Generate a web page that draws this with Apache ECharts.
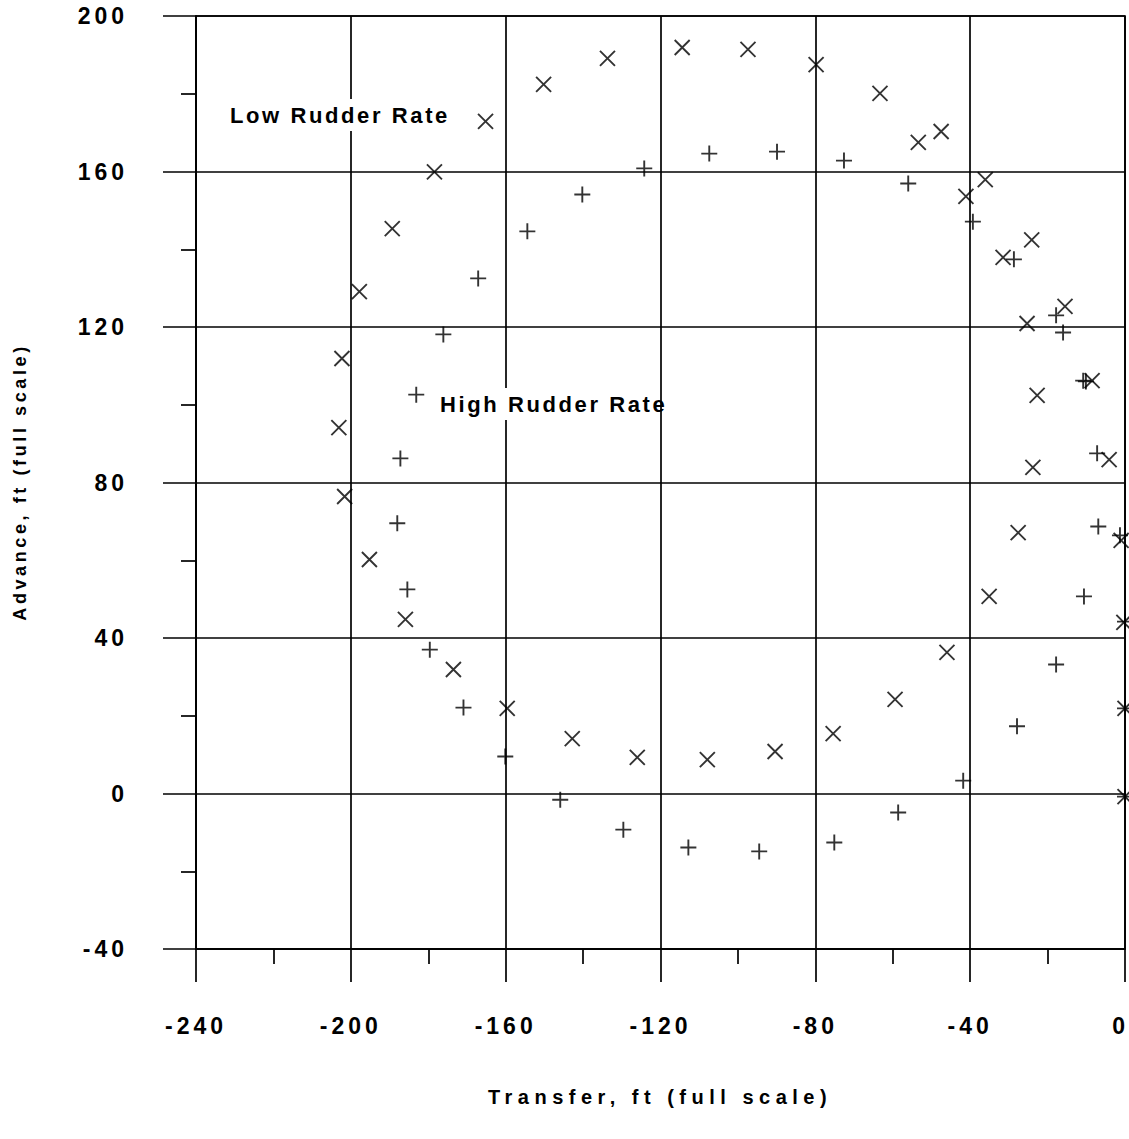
<!DOCTYPE html>
<html><head><meta charset="utf-8">
<script src="https://cdn.jsdelivr.net/npm/echarts@6/dist/echarts.min.js"></script>
<style>html,body{margin:0;padding:0;background:#fff;} #main{width:1129px;height:1139px;}</style>
</head><body><div id="main"></div>
<script>
// Axis ranges (tick labels every 40, minor ticks every 20)
const xMin = -240, xMax = 0, xStep = 40;
const yMin = -40, yMax = 200, yStep = 40;

// Low Rudder Rate (x markers): [transfer, advance]
const lowRudder = [
  [0,-0.8],[0,21.9],[-0.3,44.0],[-1.0,65.1],[-4.1,85.9],[-8.5,106.2],[-15.5,125.3],
  [-24.1,142.4],[-36.1,157.9],[-47.5,170.3],[-63.3,180.1],[-79.8,187.5],[-97.4,191.4],
  [-114.4,191.9],[-133.7,189.1],[-150.2,182.4],[-165.2,172.9],[-178.4,159.9],[-189.3,145.3],
  [-197.8,129.1],[-202.3,111.9],[-203.1,94.1],[-201.6,76.4],[-195.2,60.2],[-185.9,44.8],
  [-173.5,31.9],[-159.6,21.9],[-142.8,14.1],[-126.0,9.3],[-107.9,8.7],[-90.4,10.8],
  [-75.4,15.4],[-59.4,24.2],[-46.0,36.3],[-35.1,50.7],[-27.6,67.1],[-23.8,83.9],
  [-22.7,102.4],[-25.3,120.9],[-31.5,137.9],[-41.1,153.6],[-53.4,167.5]
];

// High Rudder Rate (+ markers): [transfer, advance]
const highRudder = [
  [0,-0.8],[0,21.9],[0,44.2],[-1.3,66.4],[-7.2,87.5],[-10.8,106.2],[-10.1,106.0],
  [-16.0,118.6],[-17.8,123.0],[-28.7,137.4],[-39.3,147.1],[-56.0,156.9],[-72.6,162.8],
  [-89.9,165.1],[-107.4,164.6],[-124.2,160.8],[-140.2,154.1],[-154.4,144.6],[-167.1,132.5],
  [-176.1,118.1],[-183.1,102.6],[-187.2,86.2],[-188.0,69.5],[-185.4,52.5],[-179.6,37.0],
  [-170.9,22.1],[-160.1,9.5],[-145.9,-1.6],[-129.6,-9.3],[-112.8,-13.9],[-94.5,-14.9],
  [-75.1,-12.6],[-58.6,-4.9],[-41.8,3.3],[-27.9,17.3],[-17.8,33.2],[-10.6,50.7],[-6.9,68.7]
];

const xTitle = 'Transfer, ft (full scale)';
const yTitle = 'Advance, ft (full scale)';
const lowLabel = 'Low Rudder Rate';
const highLabel = 'High Rudder Rate';

const FONT = '"Liberation Sans", Arial, sans-serif';
const black = '#000';
const lw = 1.7;

const chart = echarts.init(document.getElementById('main'), null, {renderer: 'svg'});

const axisCommon = {
  type: 'value',
  axisLine: {show: true, onZero: false, lineStyle: {color: black, width: lw}},
  axisTick: {show: true, length: 33, lineStyle: {color: black, width: lw}},
  minorTick: {show: true, splitNumber: 2, length: 15, lineStyle: {color: black, width: lw}},
  splitLine: {show: true, lineStyle: {color: black, width: lw}},
  axisLabel: {color: black, fontFamily: FONT, fontWeight: 'bold', fontSize: 23}
};

chart.setOption({
  animation: false,
  backgroundColor: '#fff',
  grid: {left: 196, top: 16, right: 4, bottom: 190, outerBoundsMode: 'none', containLabel: false,
         show: true, borderColor: black, borderWidth: lw, backgroundColor: 'transparent'},
  xAxis: Object.assign({}, axisCommon, {
    min: xMin, max: xMax, interval: xStep,
    axisLabel: Object.assign({}, axisCommon.axisLabel, {margin: 65, alignMaxLabel: 'right'})
  }),
  yAxis: Object.assign({}, axisCommon, {
    min: yMin, max: yMax, interval: yStep,
    axisLabel: Object.assign({}, axisCommon.axisLabel, {margin: 68})
  }),
  series: [
    {
      name: lowLabel, type: 'scatter', data: lowRudder, silent: true, clip: false,
      symbol: 'path://M0,0L16,16M16,0L0,16', symbolSize: 15,
      itemStyle: {color: 'rgba(0,0,0,0)', borderColor: black, borderWidth: 1.9}
    },
    {
      name: highLabel, type: 'scatter', data: highRudder, silent: true, clip: false,
      symbol: 'path://M8,0L8,16M0,8L16,8', symbolSize: 16,
      itemStyle: {color: 'rgba(0,0,0,0)', borderColor: black, borderWidth: 1.9}
    }
  ],
  graphic: [
    {type: 'text', z: 100, x: 228, y: 115,
     style: {text: lowLabel, font: 'bold 22px ' + FONT, fill: black, align: 'left', verticalAlign: 'middle', backgroundColor: '#fff', padding: [5, 2]}},
    {type: 'text', z: 100, x: 438, y: 404,
     style: {text: highLabel, font: 'bold 22px ' + FONT, fill: black, align: 'left', verticalAlign: 'middle', backgroundColor: '#fff', padding: [5, 2]}},
    {type: 'text', z: 100, x: 660, y: 1097,
     style: {text: xTitle, font: 'bold 20px ' + FONT, fill: black, align: 'center', verticalAlign: 'middle'}},
    {type: 'text', z: 100, x: 20, y: 482, rotation: Math.PI / 2,
     style: {text: yTitle, font: 'bold 18px ' + FONT, fill: black, align: 'center', verticalAlign: 'middle'}}
  ]
});

function applySpacing() {
  document.querySelectorAll('#main text').forEach(function (t) {
    const s = t.textContent;
    let ls = 4;
    if (s === '0' && t.getBoundingClientRect().top > 1000) ls = 0;
    else if (s === xTitle) ls = 5.5;
    else if (s === yTitle) ls = 3.6;
    else if (s === lowLabel || s === highLabel) ls = 2.6;
    t.style.letterSpacing = ls + 'px';
  });
}
applySpacing();
chart.on('finished', applySpacing);
</script>
</body></html>
